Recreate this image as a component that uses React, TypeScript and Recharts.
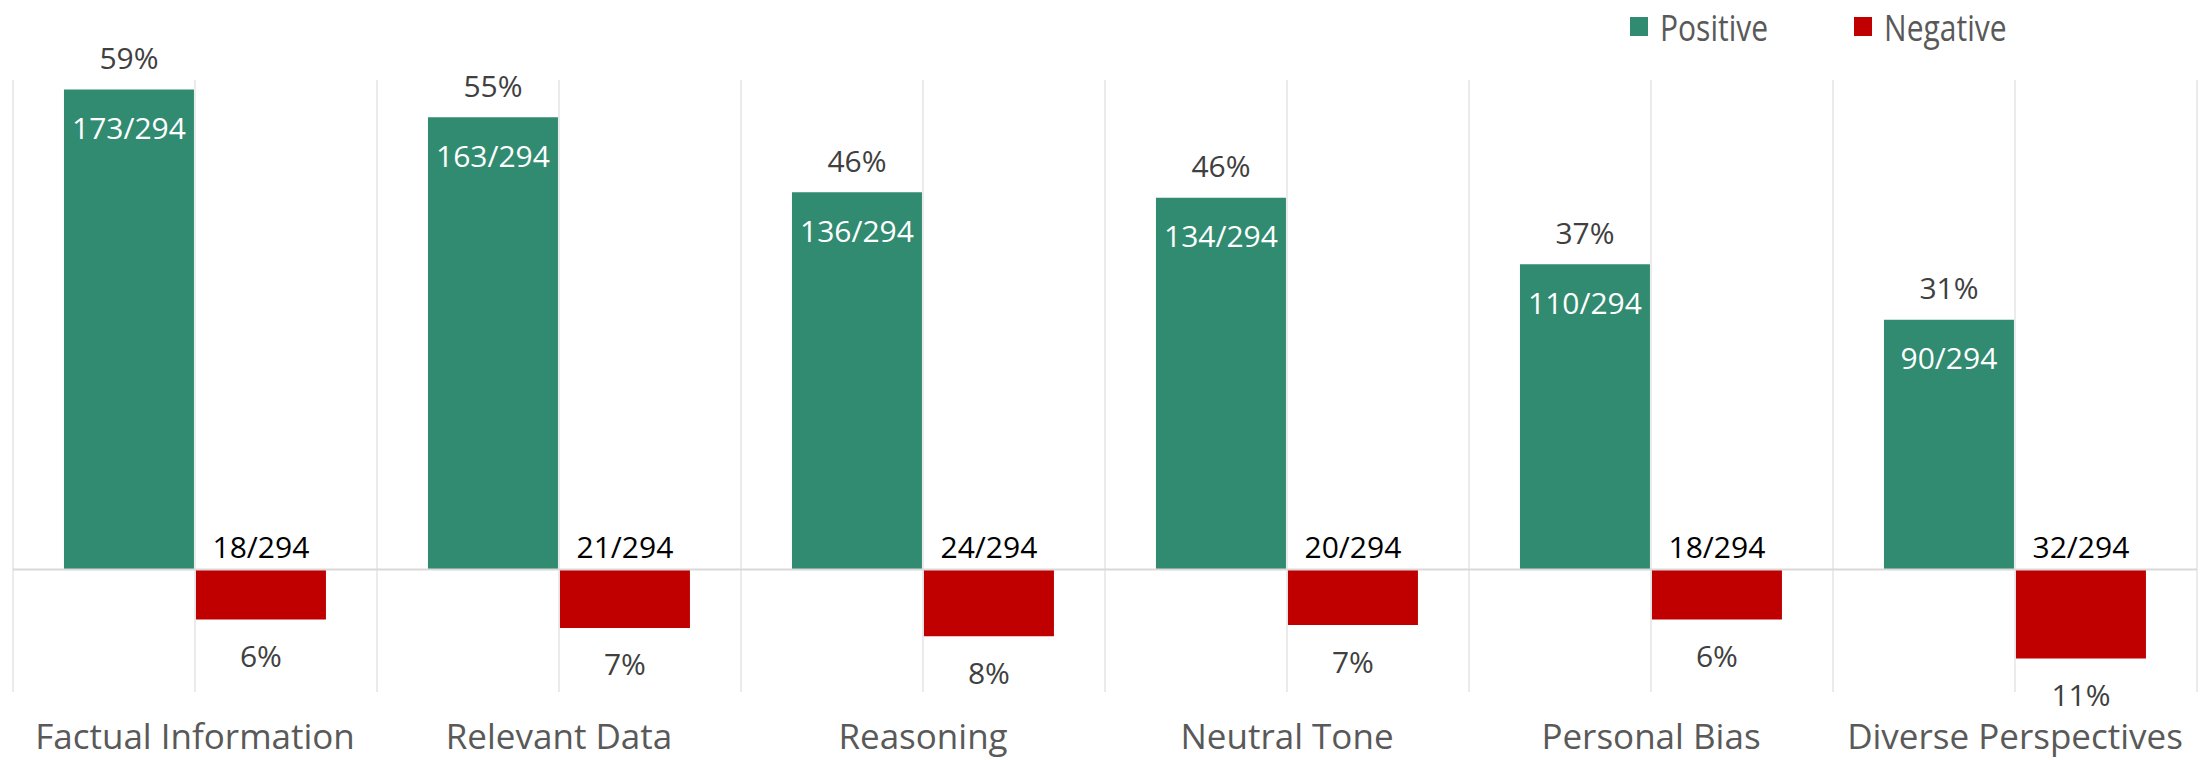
import { BarChart, Bar, XAxis, YAxis, CartesianGrid, ReferenceLine, LabelList, Legend } from "recharts";

const categories = ["Factual Information", "Relevant Data", "Reasoning", "Neutral Tone", "Personal Bias", "Diverse Perspectives"];
const positiveCounts = [173, 163, 136, 134, 110, 90];
const negativeCounts = [18, 21, 24, 20, 18, 32];
const total = 294;

const GREEN = "#318b70";
const RED = "#c00000";
const FONT = "'Segoe UI', 'Open Sans', sans-serif";

const data = categories.map((name, i) => ({
  name,
  positive: positiveCounts[i] / total,
  negative: -negativeCounts[i] / total,
  posCount: positiveCounts[i],
  negCount: negativeCounts[i],
}));

const pct = (v: number) => `${Math.round(Math.abs(v) * 100)}%`;

function PositiveLabel(props: any) {
  const { x, y, width, height, index } = props;
  const top = Math.min(y, y + height);
  const cx = x + width / 2;
  const d = data[index];
  return (
    <g fontFamily={FONT} fontSize={30}>
      <text x={cx} y={top - 32} textAnchor="middle" dominantBaseline="central" fill="#404040">
        {pct(d.positive)}
      </text>
      <text x={cx} y={top + 38} textAnchor="middle" dominantBaseline="central" fill="#ffffff">
        {`${d.posCount}/${total}`}
      </text>
    </g>
  );
}

function NegativeLabel(props: any) {
  const { x, y, width, height, index } = props;
  const top = Math.min(y, y + height);
  const bottom = Math.max(y, y + height);
  const cx = x + width / 2;
  const d = data[index];
  return (
    <g fontFamily={FONT} fontSize={30}>
      <text x={cx} y={top - 23} textAnchor="middle" dominantBaseline="central" fill="#000000">
        {`${d.negCount}/${total}`}
      </text>
      <text x={cx} y={bottom + 36} textAnchor="middle" dominantBaseline="central" fill="#404040">
        {pct(d.negative)}
      </text>
    </g>
  );
}

function CategoryTick(props: any) {
  const { x, y, payload } = props;
  return (
    <text x={x} y={y + 35} textAnchor="middle" dominantBaseline="central" fill="#595959" fontFamily={FONT} fontSize={35}>
      {payload.value}
    </text>
  );
}

function LegendBox() {
  const items = [
    { label: "Positive", color: GREEN },
    { label: "Negative", color: RED },
  ];
  return (
    <div style={{ display: "flex", alignItems: "center", fontFamily: FONT, fontSize: 30, color: "#595959" }}>
      {items.map((it) => (
        <div key={it.label} style={{ display: "flex", alignItems: "center", marginRight: 86 }}>
          <span style={{ width: 18, height: 19, background: it.color, display: "inline-block", marginRight: 12 }} />
          <span style={{ display: "inline-block", transform: "scaleY(1.22)" }}>{it.label}</span>
        </div>
      ))}
    </div>
  );
}

export default function App() {
  return (
    <div style={{ position: "absolute", left: 0, top: 0, width: 2212, height: 760, background: "#fff" }}>
      <BarChart
        width={2212}
        height={760}
        data={data}
        margin={{ top: 80, right: 15, bottom: 0, left: 13 }}
        barCategoryGap="14%"
        barGap={2}
      >
        <CartesianGrid
          horizontal={false}
          stroke="#ebebeb"
          strokeWidth={2}
          verticalCoordinatesGenerator={({ offset }: any) =>
            Array.from({ length: categories.length * 2 + 1 }, (_, i) => offset.left + (i * offset.width) / (categories.length * 2))
          }
        />
        <XAxis dataKey="name" axisLine={false} tickLine={false} height={68} interval={0} tick={<CategoryTick />} />
        <YAxis hide domain={[-0.15, 0.6]} />
        <ReferenceLine y={0} stroke="#d9d9d9" strokeWidth={2} />
        <Legend
          layout="horizontal"
          verticalAlign="middle"
          align="center"
          wrapperStyle={{ top: 6, left: 1630, width: 560 }}
          content={<LegendBox />}
        />
        <Bar dataKey="positive" name="Positive" fill={GREEN} isAnimationActive={false}>
          <LabelList dataKey="positive" content={<PositiveLabel />} />
        </Bar>
        <Bar dataKey="negative" name="Negative" fill={RED} isAnimationActive={false}>
          <LabelList dataKey="negative" content={<NegativeLabel />} />
        </Bar>
      </BarChart>
    </div>
  );
}
